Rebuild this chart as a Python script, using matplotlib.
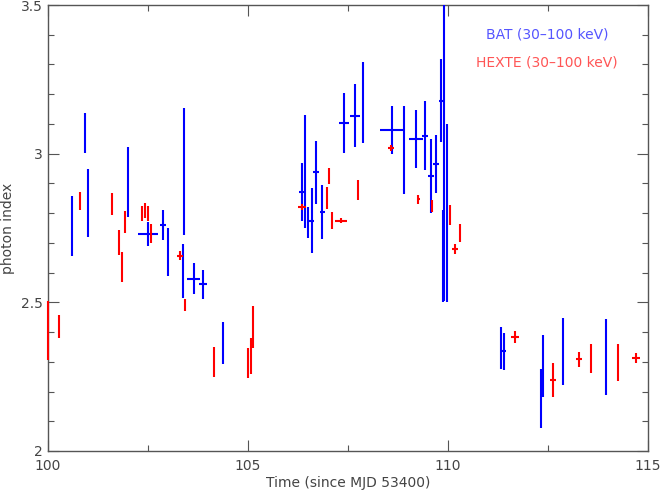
import matplotlib
matplotlib.use("Agg")
import matplotlib.pyplot as plt
from matplotlib.ticker import MultipleLocator

# BAT (30-100 keV)
bat_x = [100.59, 100.93, 101.0, 102.0, 102.5, 102.875, 103.0, 103.4, 103.37, 103.64,
         103.87, 104.375, 106.36, 106.43, 106.49, 106.59, 106.7, 106.86, 107.4, 107.67,
         107.875, 108.6, 108.9, 109.2, 109.43, 109.575, 109.7, 109.82, 109.91, 109.88,
         109.98, 111.32, 111.41, 112.32, 112.38, 112.87, 113.94]
bat_xerr = [0.02, 0.02, 0.02, 0.02, 0.25, 0.07, 0.02, 0.02, 0.03, 0.17,
            0.1, 0.02, 0.08, 0.02, 0.02, 0.06, 0.08, 0.06, 0.12, 0.12,
            0.02, 0.31, 0.02, 0.18, 0.07, 0.08, 0.07, 0.05, 0.02, 0.02,
            0.02, 0.02, 0.05, 0.02, 0.02, 0.02, 0.02]
bat_y = [2.757, 3.07, 2.834, 2.905, 2.73, 2.76, 2.67, 2.94, 2.605, 2.58,
         2.56, 2.363, 2.872, 2.94, 2.768, 2.774, 2.937, 2.805, 3.103, 3.128,
         3.173, 3.08, 3.012, 3.05, 3.061, 2.925, 2.965, 3.178, 3.214, 2.656,
         2.80, 2.347, 2.336, 2.177, 2.286, 2.334, 2.317]
bat_yerr = [0.10, 0.068, 0.115, 0.118, 0.04, 0.049, 0.08, 0.215, 0.09, 0.052,
            0.05, 0.072, 0.097, 0.19, 0.053, 0.109, 0.105, 0.091, 0.102, 0.105,
            0.136, 0.08, 0.149, 0.098, 0.115, 0.126, 0.097, 0.139, 0.71, 0.155,
            0.30, 0.07, 0.062, 0.10, 0.105, 0.112, 0.127]

# HEXTE (30-100 keV)
hx_x = [100.0, 100.27, 100.8, 101.59, 101.78, 101.85, 101.93, 102.36, 102.43, 102.5,
        102.57, 103.3, 103.42, 104.16, 105.0, 105.07, 105.13, 106.36, 106.97, 107.03,
        107.1, 107.32, 107.74, 108.57, 109.26, 109.59, 110.04, 110.18, 110.29, 111.68,
        112.63, 113.28, 113.58, 114.25, 114.7]
hx_xerr = [0.02, 0.02, 0.02, 0.02, 0.02, 0.02, 0.02, 0.02, 0.02, 0.02,
           0.02, 0.08, 0.03, 0.02, 0.02, 0.02, 0.02, 0.1, 0.02, 0.02,
           0.02, 0.15, 0.02, 0.07, 0.03, 0.02, 0.02, 0.08, 0.02, 0.1,
           0.07, 0.07, 0.02, 0.02, 0.11]
hx_y = [2.405, 2.42, 2.84, 2.83, 2.70, 2.62, 2.77, 2.80, 2.81, 2.80,
        2.73, 2.656, 2.49, 2.30, 2.296, 2.32, 2.417, 2.82, 2.852, 2.925,
        2.775, 2.774, 2.878, 3.02, 2.847, 2.824, 2.794, 2.678, 2.734, 2.382,
        2.239, 2.308, 2.312, 2.297, 2.312]
hx_yerr = [0.099, 0.039, 0.03, 0.037, 0.042, 0.05, 0.037, 0.025, 0.025, 0.025,
           0.032, 0.015, 0.02, 0.05, 0.052, 0.06, 0.072, 0.01, 0.037, 0.027,
           0.03, 0.008, 0.035, 0.01, 0.015, 0.02, 0.035, 0.017, 0.03, 0.02,
           0.056, 0.026, 0.049, 0.063, 0.016]

W, H = 661, 491
fig = plt.figure(figsize=(W / 100, H / 100), dpi=100)
ax = fig.add_axes([48/W, 40/H, 600/W, 446/H])

ax.errorbar(bat_x, bat_y, xerr=bat_xerr, yerr=bat_yerr, fmt='none',
            ecolor=(0, 0, 1), elinewidth=1.5, capsize=0, zorder=3)
hx = ax.errorbar(hx_x, hx_y, xerr=hx_xerr, yerr=hx_yerr, fmt='none',
                 ecolor=(1, 0, 0), elinewidth=1.5, capsize=0, zorder=4)
for coll in hx.lines[2]:
    coll.set_clip_on(False)

ax.set_xlim(100, 115)
ax.set_ylim(2, 3.5)
ax.xaxis.set_major_locator(MultipleLocator(5))
ax.xaxis.set_minor_locator(MultipleLocator(2.5))
ax.yaxis.set_minor_locator(MultipleLocator(0.1))
ax.set_yticks([2, 2.5, 3, 3.5])
ax.set_yticklabels(['2', '2.5', '3', '3.5'])

gray = '#555555'
for s in ax.spines.values():
    s.set_color(gray)
    s.set_linewidth(1.0)
ax.tick_params(which='both', direction='in', top=True, right=True, colors=gray,
               labelcolor='#444444', labelsize=10)
ax.tick_params(which='major', length=8, width=0.8)
ax.tick_params(which='minor', length=4, width=0.8)
ax.tick_params(axis='x', pad=6)
ax.tick_params(axis='y', pad=4)

ax.set_xlabel('Time (since MJD 53400)', fontsize=10, color='#444444', labelpad=2)
ax.set_ylabel('photon index', fontsize=10, color='#444444', labelpad=4)

fig.text(547 / W, 1 - 35 / H, 'BAT (30\u2013100 keV)', fontsize=10,
         color='#5555ff', ha='center', va='center')
fig.text(547 / W, 1 - 63 / H, 'HEXTE (30\u2013100 keV)', fontsize=10,
         color='#ff5555', ha='center', va='center')

fig.savefig('out.png', dpi=100)
